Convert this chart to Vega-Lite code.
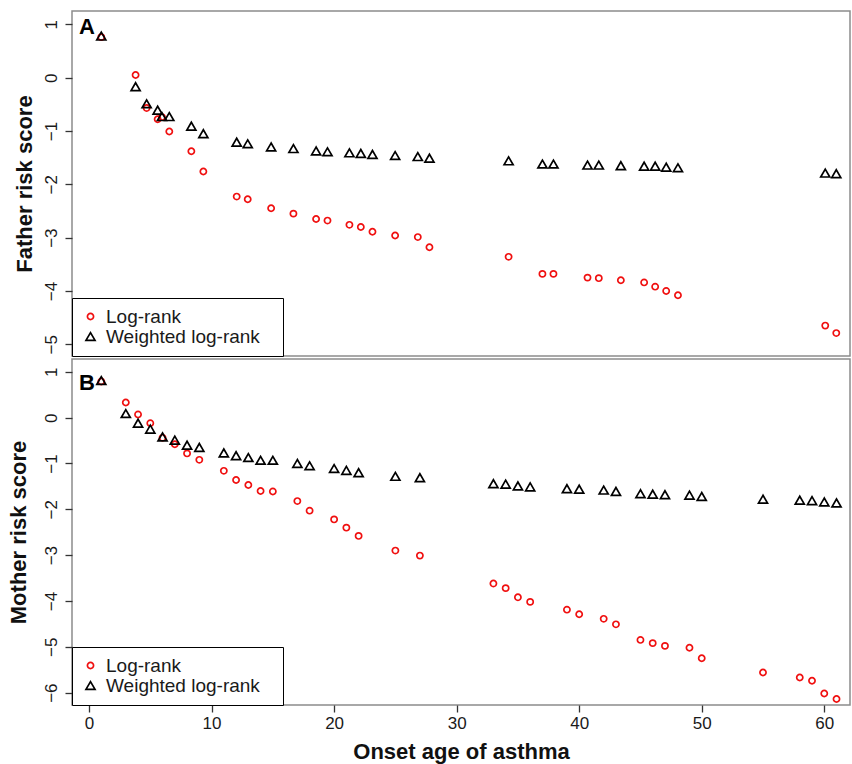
{
  "$schema": "https://vega.github.io/schema/vega-lite/v6.json",
  "padding": {"left": 6, "top": 10, "right": 2, "bottom": 4},
  "background": "white",
  "config": {
    "font": "Liberation Sans",
    "view": {"stroke": "#8c8c8c", "strokeWidth": 1.5},
    "concat": {"spacing": 0},
    "axis": {
      "grid": false,
      "domain": false,
      "ticks": true,
      "tickColor": "#333333",
      "tickSize": 7,
      "tickWidth": 1.3,
      "labelFontSize": 17,
      "labelColor": "#1a1a1a",
      "labelPadding": 5,
      "titleFontSize": 22,
      "titleFontWeight": "bold",
      "titleColor": "#111111"
    },
    "legend": {
      "orient": "bottom-left",
      "offset": 0,
      "title": null,
      "strokeColor": "#000000",
      "fillColor": "white",
      "padding": 9,
      "labelFontSize": 19,
      "labelLimit": 400,
      "labelColor": "#1a1a1a",
      "labelOffset": 6,
      "rowPadding": 0,
      "symbolStrokeWidth": 1.7
    }
  },
  "datasets": {
    "father": [
      {"age": 1, "score": 0.76, "method": "Log-rank"},
      {"age": 3.8, "score": 0.05, "method": "Log-rank"},
      {"age": 4.7, "score": -0.57, "method": "Log-rank"},
      {"age": 5.6, "score": -0.78, "method": "Log-rank"},
      {"age": 5.95, "score": -0.74, "method": "Log-rank"},
      {"age": 6.55, "score": -1.01, "method": "Log-rank"},
      {"age": 8.35, "score": -1.38, "method": "Log-rank"},
      {"age": 9.33, "score": -1.76, "method": "Log-rank"},
      {"age": 12.05, "score": -2.23, "method": "Log-rank"},
      {"age": 12.95, "score": -2.28, "method": "Log-rank"},
      {"age": 14.86, "score": -2.45, "method": "Log-rank"},
      {"age": 16.68, "score": -2.55, "method": "Log-rank"},
      {"age": 18.53, "score": -2.65, "method": "Log-rank"},
      {"age": 19.46, "score": -2.68, "method": "Log-rank"},
      {"age": 21.25, "score": -2.76, "method": "Log-rank"},
      {"age": 22.18, "score": -2.8, "method": "Log-rank"},
      {"age": 23.13, "score": -2.89, "method": "Log-rank"},
      {"age": 24.98, "score": -2.96, "method": "Log-rank"},
      {"age": 26.83, "score": -2.99, "method": "Log-rank"},
      {"age": 27.78, "score": -3.18, "method": "Log-rank"},
      {"age": 34.24, "score": -3.36, "method": "Log-rank"},
      {"age": 37.0, "score": -3.68, "method": "Log-rank"},
      {"age": 37.9, "score": -3.68, "method": "Log-rank"},
      {"age": 40.68, "score": -3.75, "method": "Log-rank"},
      {"age": 41.6, "score": -3.76, "method": "Log-rank"},
      {"age": 43.4, "score": -3.8, "method": "Log-rank"},
      {"age": 45.3, "score": -3.84, "method": "Log-rank"},
      {"age": 46.2, "score": -3.92, "method": "Log-rank"},
      {"age": 47.1, "score": -4.0, "method": "Log-rank"},
      {"age": 48.06, "score": -4.08, "method": "Log-rank"},
      {"age": 60.08, "score": -4.65, "method": "Log-rank"},
      {"age": 60.98, "score": -4.79, "method": "Log-rank"},
      {"age": 1, "score": 0.78, "method": "Weighted log-rank"},
      {"age": 3.8, "score": -0.17, "method": "Weighted log-rank"},
      {"age": 4.7, "score": -0.49, "method": "Weighted log-rank"},
      {"age": 5.6, "score": -0.61, "method": "Weighted log-rank"},
      {"age": 5.95, "score": -0.73, "method": "Weighted log-rank"},
      {"age": 6.55, "score": -0.73, "method": "Weighted log-rank"},
      {"age": 8.35, "score": -0.91, "method": "Weighted log-rank"},
      {"age": 9.33, "score": -1.05, "method": "Weighted log-rank"},
      {"age": 12.05, "score": -1.21, "method": "Weighted log-rank"},
      {"age": 12.95, "score": -1.24, "method": "Weighted log-rank"},
      {"age": 14.86, "score": -1.3, "method": "Weighted log-rank"},
      {"age": 16.68, "score": -1.33, "method": "Weighted log-rank"},
      {"age": 18.53, "score": -1.375, "method": "Weighted log-rank"},
      {"age": 19.46, "score": -1.39, "method": "Weighted log-rank"},
      {"age": 21.25, "score": -1.41, "method": "Weighted log-rank"},
      {"age": 22.18, "score": -1.42, "method": "Weighted log-rank"},
      {"age": 23.13, "score": -1.44, "method": "Weighted log-rank"},
      {"age": 24.98, "score": -1.46, "method": "Weighted log-rank"},
      {"age": 26.83, "score": -1.48, "method": "Weighted log-rank"},
      {"age": 27.78, "score": -1.51, "method": "Weighted log-rank"},
      {"age": 34.24, "score": -1.56, "method": "Weighted log-rank"},
      {"age": 37.0, "score": -1.62, "method": "Weighted log-rank"},
      {"age": 37.9, "score": -1.62, "method": "Weighted log-rank"},
      {"age": 40.68, "score": -1.64, "method": "Weighted log-rank"},
      {"age": 41.6, "score": -1.64, "method": "Weighted log-rank"},
      {"age": 43.4, "score": -1.65, "method": "Weighted log-rank"},
      {"age": 45.3, "score": -1.66, "method": "Weighted log-rank"},
      {"age": 46.2, "score": -1.66, "method": "Weighted log-rank"},
      {"age": 47.1, "score": -1.68, "method": "Weighted log-rank"},
      {"age": 48.06, "score": -1.69, "method": "Weighted log-rank"},
      {"age": 60.08, "score": -1.79, "method": "Weighted log-rank"},
      {"age": 60.98, "score": -1.8, "method": "Weighted log-rank"}
    ],
    "mother": [
      {"age": 1, "score": 0.79, "method": "Log-rank"},
      {"age": 3, "score": 0.33, "method": "Log-rank"},
      {"age": 4, "score": 0.07, "method": "Log-rank"},
      {"age": 5, "score": -0.12, "method": "Log-rank"},
      {"age": 6, "score": -0.44, "method": "Log-rank"},
      {"age": 7, "score": -0.58, "method": "Log-rank"},
      {"age": 8, "score": -0.78, "method": "Log-rank"},
      {"age": 9, "score": -0.92, "method": "Log-rank"},
      {"age": 11, "score": -1.16, "method": "Log-rank"},
      {"age": 12, "score": -1.36, "method": "Log-rank"},
      {"age": 13, "score": -1.47, "method": "Log-rank"},
      {"age": 14, "score": -1.6, "method": "Log-rank"},
      {"age": 15, "score": -1.61, "method": "Log-rank"},
      {"age": 17, "score": -1.82, "method": "Log-rank"},
      {"age": 18, "score": -2.03, "method": "Log-rank"},
      {"age": 20, "score": -2.22, "method": "Log-rank"},
      {"age": 21, "score": -2.4, "method": "Log-rank"},
      {"age": 22, "score": -2.58, "method": "Log-rank"},
      {"age": 25, "score": -2.9, "method": "Log-rank"},
      {"age": 27, "score": -3.01, "method": "Log-rank"},
      {"age": 33, "score": -3.62, "method": "Log-rank"},
      {"age": 34, "score": -3.72, "method": "Log-rank"},
      {"age": 35, "score": -3.92, "method": "Log-rank"},
      {"age": 36, "score": -4.02, "method": "Log-rank"},
      {"age": 39, "score": -4.19, "method": "Log-rank"},
      {"age": 40, "score": -4.29, "method": "Log-rank"},
      {"age": 42, "score": -4.39, "method": "Log-rank"},
      {"age": 43, "score": -4.51, "method": "Log-rank"},
      {"age": 45, "score": -4.85, "method": "Log-rank"},
      {"age": 46, "score": -4.92, "method": "Log-rank"},
      {"age": 47, "score": -4.98, "method": "Log-rank"},
      {"age": 49, "score": -5.02, "method": "Log-rank"},
      {"age": 50, "score": -5.25, "method": "Log-rank"},
      {"age": 55, "score": -5.56, "method": "Log-rank"},
      {"age": 58, "score": -5.67, "method": "Log-rank"},
      {"age": 59, "score": -5.74, "method": "Log-rank"},
      {"age": 60, "score": -6.02, "method": "Log-rank"},
      {"age": 61, "score": -6.14, "method": "Log-rank"},
      {"age": 1, "score": 0.81, "method": "Weighted log-rank"},
      {"age": 3, "score": 0.09, "method": "Weighted log-rank"},
      {"age": 4, "score": -0.12, "method": "Weighted log-rank"},
      {"age": 5, "score": -0.25, "method": "Weighted log-rank"},
      {"age": 6, "score": -0.42, "method": "Weighted log-rank"},
      {"age": 7, "score": -0.49, "method": "Weighted log-rank"},
      {"age": 8, "score": -0.6, "method": "Weighted log-rank"},
      {"age": 9, "score": -0.65, "method": "Weighted log-rank"},
      {"age": 11, "score": -0.77, "method": "Weighted log-rank"},
      {"age": 12, "score": -0.83, "method": "Weighted log-rank"},
      {"age": 13, "score": -0.87, "method": "Weighted log-rank"},
      {"age": 14, "score": -0.93, "method": "Weighted log-rank"},
      {"age": 15, "score": -0.93, "method": "Weighted log-rank"},
      {"age": 17, "score": -1.0, "method": "Weighted log-rank"},
      {"age": 18, "score": -1.05, "method": "Weighted log-rank"},
      {"age": 20, "score": -1.11, "method": "Weighted log-rank"},
      {"age": 21, "score": -1.15, "method": "Weighted log-rank"},
      {"age": 22, "score": -1.2, "method": "Weighted log-rank"},
      {"age": 25, "score": -1.28, "method": "Weighted log-rank"},
      {"age": 27, "score": -1.31, "method": "Weighted log-rank"},
      {"age": 33, "score": -1.44, "method": "Weighted log-rank"},
      {"age": 34, "score": -1.45, "method": "Weighted log-rank"},
      {"age": 35, "score": -1.49, "method": "Weighted log-rank"},
      {"age": 36, "score": -1.51, "method": "Weighted log-rank"},
      {"age": 39, "score": -1.55, "method": "Weighted log-rank"},
      {"age": 40, "score": -1.56, "method": "Weighted log-rank"},
      {"age": 42, "score": -1.58, "method": "Weighted log-rank"},
      {"age": 43, "score": -1.61, "method": "Weighted log-rank"},
      {"age": 45, "score": -1.66, "method": "Weighted log-rank"},
      {"age": 46, "score": -1.67, "method": "Weighted log-rank"},
      {"age": 47, "score": -1.68, "method": "Weighted log-rank"},
      {"age": 49, "score": -1.69, "method": "Weighted log-rank"},
      {"age": 50, "score": -1.72, "method": "Weighted log-rank"},
      {"age": 55, "score": -1.78, "method": "Weighted log-rank"},
      {"age": 58, "score": -1.8, "method": "Weighted log-rank"},
      {"age": 59, "score": -1.81, "method": "Weighted log-rank"},
      {"age": 60, "score": -1.84, "method": "Weighted log-rank"},
      {"age": 61, "score": -1.86, "method": "Weighted log-rank"}
    ]
  },
  "vconcat": [
    {
      "width": 778,
      "height": 345,
      "layer": [
        {
          "data": {"name": "father"},
          "mark": {"type": "point", "filled": false, "strokeWidth": 1.7, "opacity": 1},
          "encoding": {
            "x": {"field": "age", "type": "quantitative", "scale": {"domain": [-1.39, 62.1], "nice": false, "zero": false}, "axis": null},
            "y": {
              "field": "score", "type": "quantitative",
              "scale": {"domain": [-5.22, 1.25], "nice": false, "zero": false},
              "axis": {"title": "Father risk score", "values": [-5, -4, -3, -2, -1, 0, 1], "labelAngle": -90, "labelAlign": "center", "labelBaseline": "bottom", "titlePadding": 6}
            },
            "shape": {"field": "method", "type": "nominal", "scale": {"domain": ["Log-rank", "Weighted log-rank"], "range": ["circle", "triangle-up"]}, "legend": {"labelExpr": "datum.label + '\u2800'"}},
            "color": {"field": "method", "type": "nominal", "scale": {"domain": ["Log-rank", "Weighted log-rank"], "range": ["#f01010", "#000000"]}, "legend": {"labelExpr": "datum.label + '\u2800'"}},
            "size": {"field": "method", "type": "nominal", "scale": {"domain": ["Log-rank", "Weighted log-rank"], "range": [38, 82]}, "legend": {"labelExpr": "datum.label + '\u2800'"}}
          }
        },
        {
          "data": {"values": [{"panel": "A", "age": -0.82, "score": 0.81}]},
          "mark": {"type": "text", "fontSize": 22, "fontWeight": "bold", "align": "left", "baseline": "alphabetic", "color": "#000000"},
          "encoding": {
            "x": {"field": "age", "type": "quantitative"},
            "y": {"field": "score", "type": "quantitative"},
            "text": {"field": "panel"}
          }
        }
      ]
    },
    {
      "width": 778,
      "height": 346,
      "layer": [
        {
          "data": {"name": "mother"},
          "mark": {"type": "point", "filled": false, "strokeWidth": 1.7, "opacity": 1},
          "encoding": {
            "x": {
              "field": "age", "type": "quantitative",
              "scale": {"domain": [-1.39, 62.1], "nice": false, "zero": false},
              "axis": {"title": "Onset age of asthma", "values": [0, 10, 20, 30, 40, 50, 60], "labelPadding": 3, "titlePadding": 10}
            },
            "y": {
              "field": "score", "type": "quantitative",
              "scale": {"domain": [-6.27, 1.28], "nice": false, "zero": false},
              "axis": {"title": "Mother risk score", "values": [-6, -5, -4, -3, -2, -1, 0, 1], "labelAngle": -90, "labelAlign": "center", "labelBaseline": "bottom", "titlePadding": 12}
            },
            "shape": {"field": "method", "type": "nominal", "scale": {"domain": ["Log-rank", "Weighted log-rank"], "range": ["circle", "triangle-up"]}, "legend": {"labelExpr": "datum.label + '\u2800'"}},
            "color": {"field": "method", "type": "nominal", "scale": {"domain": ["Log-rank", "Weighted log-rank"], "range": ["#f01010", "#000000"]}, "legend": {"labelExpr": "datum.label + '\u2800'"}},
            "size": {"field": "method", "type": "nominal", "scale": {"domain": ["Log-rank", "Weighted log-rank"], "range": [38, 82]}, "legend": {"labelExpr": "datum.label + '\u2800'"}}
          }
        },
        {
          "data": {"values": [{"panel": "B", "age": -0.82, "score": 0.6}]},
          "mark": {"type": "text", "fontSize": 22, "fontWeight": "bold", "align": "left", "baseline": "alphabetic", "color": "#000000"},
          "encoding": {
            "x": {"field": "age", "type": "quantitative"},
            "y": {"field": "score", "type": "quantitative"},
            "text": {"field": "panel"}
          }
        }
      ]
    }
  ],
  "resolve": {"scale": {"y": "independent", "shape": "independent", "color": "independent", "size": "independent"}, "legend": {"shape": "independent", "color": "independent", "size": "independent"}}
}
